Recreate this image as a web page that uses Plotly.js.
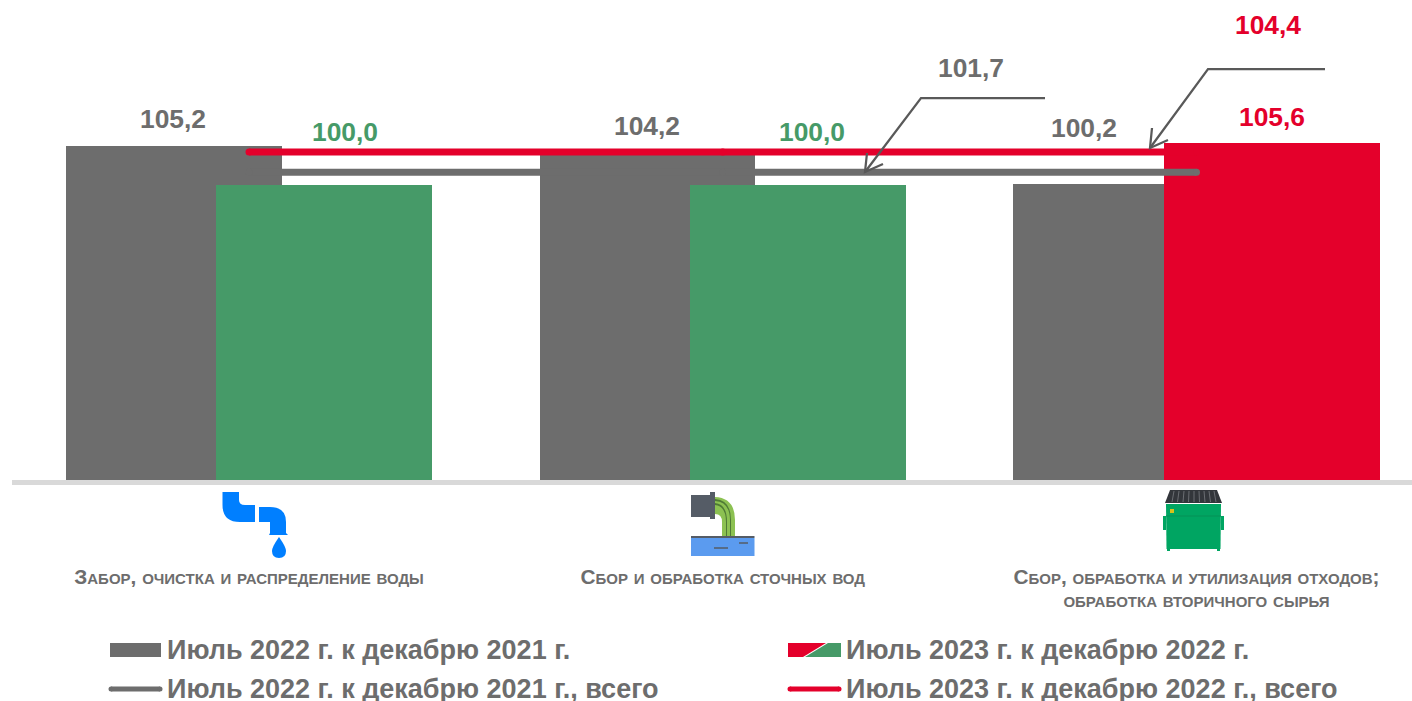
<!DOCTYPE html>
<html>
<head>
<meta charset="utf-8">
<script src="https://cdn.plot.ly/plotly-3.0.1.min.js"></script>
<style>html,body{margin:0;padding:0;background:#fff;overflow:hidden}#chart{width:1412px;height:701px}</style>
</head>
<body>
<div id="chart"></div>
<script>
// ---- data ----
const categories = ['Забор, очистка и распределение воды', 'Сбор и обработка сточных вод', 'Сбор, обработка и утилизация отходов;<br>обработка вторичного сырья'];
const values2022 = [105.2, 104.2, 100.2];
const values2023 = [100.0, 100.0, 105.6];
const total2022 = [101.7, 101.7, 101.7];
const total2023 = [104.4, 104.4, 104.4];
const legendLabels = ['Июль 2022 г. к декабрю 2021 г.', 'Июль 2023 г. к декабрю 2022 г.', 'Июль 2022 г. к декабрю 2021 г., всего', 'Июль 2023 г. к декабрю 2022 г., всего'];

// ---- styles ----
const GRAY = '#6d6d6d', GREEN = '#469a68', RED = '#e4002b', AXIS = '#d9d9d9', LEADER = '#595959';
const colors2023 = [GREEN, GREEN, RED];
const FONT = 'Liberation Sans, Arial, sans-serif';
const fmt = v => v.toFixed(1).replace('.', ',');

// ---- plot geometry helpers (decorations only) ----
const PL = 12, PW = 1400, PH = 480;
const px = x => (x - PL) / PW;
const py = y => (PH - y) / PH;
const P = pts => pts.map((p, i) => (i ? 'L' : 'M') + px(p[0]) + ',' + py(p[1])).join(' ');
function poly(pts, fill, line, w) {
  return {type: 'path', xref: 'paper', yref: 'paper', path: P(pts) + (fill ? ' Z' : ''),
    fillcolor: fill || 'rgba(0,0,0,0)', line: {color: line || fill, width: line ? (w || 1) : 0}, layer: 'above'};
}
function curve(str, fill) {
  const d = str.replace(/(-?[\d.]+),(-?[\d.]+)/g, (m, a, b) => px(+a) + ',' + py(+b));
  return {type: 'path', xref: 'paper', yref: 'paper', path: d, fillcolor: fill, line: {width: 0}, layer: 'above'};
}
function dot(x, y, r, fill) {
  return {type: 'circle', xref: 'paper', yref: 'paper', x0: px(x - r), x1: px(x + r), y0: py(y + r), y1: py(y - r),
    fillcolor: fill, line: {width: 0}, layer: 'above'};
}
const BW_L = [0.456, 0.454, 0.458], BW_R = [0.456, 0.456, 0.454];
const OFF_L = [-0.386, -0.386, -0.388], OFF_R = [-0.0697, -0.0697, -0.0677];

const traces = [
  {type: 'bar', x: categories, y: values2022, width: BW_L, offset: OFF_L, marker: {color: GRAY}, hoverinfo: 'skip'},
  {type: 'bar', x: categories, y: values2023, width: BW_R, offset: OFF_R, marker: {color: colors2023}, hoverinfo: 'skip'},
  {type: 'scatter', mode: 'lines+markers', x: categories, y: total2022, line: {color: GRAY, width: 7}, marker: {color: GRAY, size: 7}, hoverinfo: 'skip'},
  {type: 'scatter', mode: 'lines+markers', x: categories, y: total2023, line: {color: RED, width: 7}, marker: {color: RED, size: 7}, hoverinfo: 'skip'}
];

// value labels, anchored on values, nudged in pixels
const anns = [];
const VFS = 26.4;
const lab = (x, y, text, color, dx, dy) => anns.push({x, y, xref: 'x', yref: 'y', text: '<b>' + text + '</b>', showarrow: false,
  xanchor: 'center', yanchor: 'middle', xshift: dx, yshift: dy, font: {family: FONT, size: VFS, color}});
const dx22 = [-76, -76, -113], dy22 = [27, 28, 56];
const dx23 = [96, 89, 75], dy23 = [53, 53, 26];
values2022.forEach((v, i) => lab(i, v, fmt(v), GRAY, dx22[i], dy22[i]));
values2023.forEach((v, i) => lab(i, v, fmt(v), colors2023[i], dx23[i], dy23[i]));
lab(1.5295, total2022[0], fmt(total2022[0]), GRAY, -3, 104);
lab(2.1515, total2023[0], fmt(total2023[0]), RED, 0, 127);

// legend text
const LFS = 27;
const legPos = [[167, 650], [846, 650], [167, 689], [846, 689]];
legendLabels.forEach((t, i) => anns.push({xref: 'paper', yref: 'paper', x: px(legPos[i][0]), y: py(legPos[i][1]), text: '<b>' + t + '</b>',
  showarrow: false, xanchor: 'left', yanchor: 'middle', xshift: -2, font: {family: FONT, size: LFS, color: GRAY}}));

const ribs = [1174, 1179, 1184, 1189, 1194, 1199, 1204, 1209, 1214];
const shapes = [
  // leaders with open arrow heads
  poly([[1045, 98], [921, 98], [865, 172]], null, LEADER, 2.25),
  poly([[867, 153], [865, 172], [883, 164]], null, LEADER, 2.25),
  poly([[1325, 69], [1208, 69], [1150, 148]], null, LEADER, 2.25),
  poly([[1152, 128], [1150, 148], [1168, 140]], null, LEADER, 2.25),
  // legend swatches
  poly([[110, 643], [161, 643], [161, 657], [110, 657]], GRAY),
  poly([[788, 643], [826, 643], [803, 657], [788, 657]], RED),
  poly([[828, 643], [841, 643], [841, 657], [805, 657]], GREEN),
  poly([[111, 689], [160, 689]], null, GRAY, 5),
  dot(111, 689, 2.5, GRAY), dot(160, 689, 2.5, GRAY),
  poly([[790, 689], [839, 689]], null, RED, 5),
  dot(790, 689, 2.5, RED), dot(839, 689, 2.5, RED),
  // faucet icon
  curve('M 222.5,492 L 239,492 L 239,500 Q 239,505 245,505 L 255,505 L 255,522 L 240,522 Q 222.5,522 222.5,505 Z', '#007fff'),
  curve('M 259,507 L 270,507 Q 286,507 286,522 L 286,533 L 288,535 L 269,535 L 270,533 L 270,522 L 259,522 Z', '#007fff'),
  curve('M 279,537 Q 286,547 286,551 Q 286,558 279,558 Q 272,558 272,551 Q 272,547 279,537 Z', '#007fff'),
  // pipe icon
  curve('M 715,497 Q 735,498 735,520 L 735,538 L 722,538 L 722,522 Q 722,514 715,514 Z', '#8cc152'),
  curve('M 715,503 Q 727,504 727,522 L 727,538 L 726,538 L 726,522 Q 726,506 715,505 Z', '#4f7a35'),
  curve('M 715,499 Q 731,500 731,520 L 731,538 L 730,538 L 730,520 Q 730,502 715,501 Z', '#4f7a35'),
  poly([[691, 495], [710, 495], [710, 517], [691, 517]], '#555c66'),
  poly([[710, 492], [715, 492], [715, 519], [710, 519]], '#555c66'),
  poly([[691, 538], [754.5, 538], [754.5, 556], [691, 556]], '#5b9bef'),
  poly([[691, 537], [754.5, 537]], null, '#555c66', 2),
  poly([[714, 548], [728, 548]], null, '#555c66', 1.5),
  poly([[739, 543], [748, 543]], null, '#555c66', 1.5),
  // dumpster icon
  poly([[1170, 490], [1217, 490], [1222, 503], [1165, 503]], '#33363b'),
  ...ribs.map(x => poly([[x, 491], [x + (x - 1194) * 0.1, 502]], null, '#6a6d72', 1)),
  poly([[1166, 504], [1221, 504], [1220.5, 549], [1166.5, 549]], '#00a562'),
  poly([[1166, 516], [1221, 516]], null, '#049156', 1),
  poly([[1163, 516], [1166, 516], [1166, 530], [1163, 530]], '#00a562'),
  poly([[1221, 516], [1224, 516], [1224, 530], [1221, 530]], '#00a562'),
  poly([[1167, 549], [1170, 549], [1170, 551], [1167, 551]], '#00a562'),
  poly([[1217, 549], [1220, 549], [1220, 551], [1217, 551]], '#00a562'),
  poly([[1170, 509], [1174, 509], [1174, 513], [1170, 513]], '#d8c21a')
];

const layout = {
  width: 1412, height: 701, showlegend: false, barmode: 'overlay', bargap: 0,
  paper_bgcolor: '#fff', plot_bgcolor: '#fff',
  margin: {l: PL, r: 0, t: 0, b: 701 - PH, pad: 0},
  font: {family: FONT},
  xaxis: {
    type: 'category', range: [-0.5003, 2.4549], showgrid: false, zeroline: false, ticks: '',
    showline: true, linecolor: AXIS, linewidth: 5, ticklabelstandoff: 74,
    tickangle: 0, automargin: false,
    tickfont: {family: FONT, size: 20.8, color: GRAY, weight: 700, variant: 'small-caps'}
  },
  yaxis: {range: [60.67, 124.67], visible: false, showgrid: false, zeroline: false},
  annotations: anns,
  shapes: shapes
};
Plotly.newPlot('chart', traces, layout, {displayModeBar: false, staticPlot: true}).then(() => {
  // tighter line spacing for the two-line category label
  document.querySelectorAll('.xtick tspan.line').forEach(t => {
    const dy = parseFloat(t.getAttribute('dy'));
    if (dy > 0) t.setAttribute('dy', (dy * 1.1 / 1.3) + 'em');
  });
});
</script>
</body>
</html>
